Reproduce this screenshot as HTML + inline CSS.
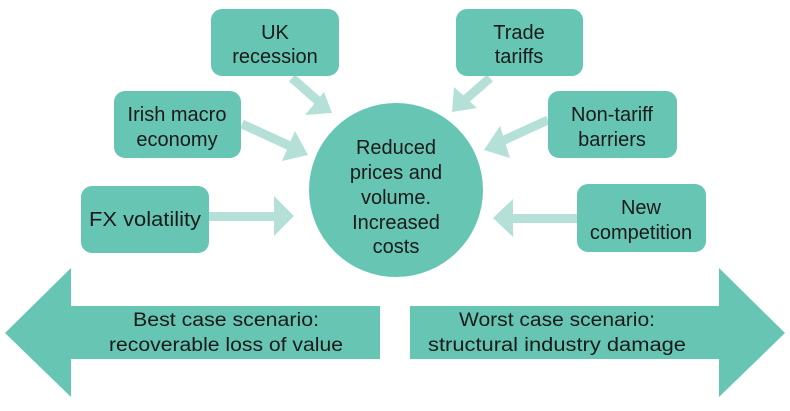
<!DOCTYPE html>
<html><head><meta charset="utf-8"><style>
body{margin:0;background:#fff;}
svg text{font-family:"Liberation Sans",sans-serif;fill:#1a1a1a;text-anchor:middle;}
</style></head><body>
<svg width="790" height="406" viewBox="0 0 790 406" xmlns="http://www.w3.org/2000/svg">
<g fill="#b5e0d7" stroke="none">
<line x1="292" y1="78" x2="318" y2="101" stroke="#b5e0d7" stroke-width="9"/>
<polygon points="332,113 305,115 324,92"/>
<line x1="242" y1="124" x2="290" y2="146" stroke="#b5e0d7" stroke-width="9"/>
<polygon points="308,155 282,161 295,131"/>
<rect x="208" y="212" width="66" height="9"/>
<polygon points="294,216 274,196 274,236"/>
<line x1="490" y1="78" x2="466" y2="99" stroke="#b5e0d7" stroke-width="9"/>
<polygon points="452,112 454,87 477,108"/>
<line x1="548" y1="120" x2="500" y2="142" stroke="#b5e0d7" stroke-width="9"/>
<polygon points="484,150 500,126 510,158"/>
<rect x="512" y="214" width="66" height="9"/>
<polygon points="493,218 513,199 513,237"/>
</g>
<g fill="#66c5b3">
<rect x="211" y="9" width="128" height="67" rx="11"/>
<rect x="114" y="91" width="127" height="67" rx="11"/>
<rect x="81" y="186" width="128" height="67" rx="11"/>
<rect x="456" y="9" width="127" height="67" rx="11"/>
<rect x="548" y="91" width="129" height="67" rx="11"/>
<rect x="577" y="184" width="129" height="68" rx="11"/>
<circle cx="396" cy="190" r="87"/>
<polygon points="5,333 71,268 71,306 380,306 380,359 71,359 71,397"/>
<polygon points="785,333 719,268 719,306 410,306 410,359 719,359 719,397"/>
</g>
<g font-size="20">
<text x="275" y="39">UK</text><text x="275" y="63">recession</text>
<text x="177" y="121">Irish macro</text><text x="177" y="146">economy</text>
<text x="145" y="226" textLength="112" lengthAdjust="spacingAndGlyphs">FX volatility</text>
<text x="519" y="39">Trade</text><text x="519" y="63">tariffs</text>
<text x="612" y="121">Non-tariff</text><text x="612" y="146">barriers</text>
<text x="641" y="214">New</text><text x="641" y="239">competition</text>
<text x="396" y="154">Reduced</text>
<text x="396" y="179">prices and</text>
<text x="396" y="204">volume.</text>
<text x="396" y="229">Increased</text>
<text x="396" y="253">costs</text>
</g>
<g font-size="19">
<text x="226" y="326" textLength="186" lengthAdjust="spacingAndGlyphs">Best case scenario:</text>
<text x="226" y="351" textLength="234" lengthAdjust="spacingAndGlyphs">recoverable loss of value</text>
<text x="557" y="326" textLength="196" lengthAdjust="spacingAndGlyphs">Worst case scenario:</text>
<text x="557" y="351" textLength="258" lengthAdjust="spacingAndGlyphs">structural industry damage</text>
</g>
</svg>
</body></html>
